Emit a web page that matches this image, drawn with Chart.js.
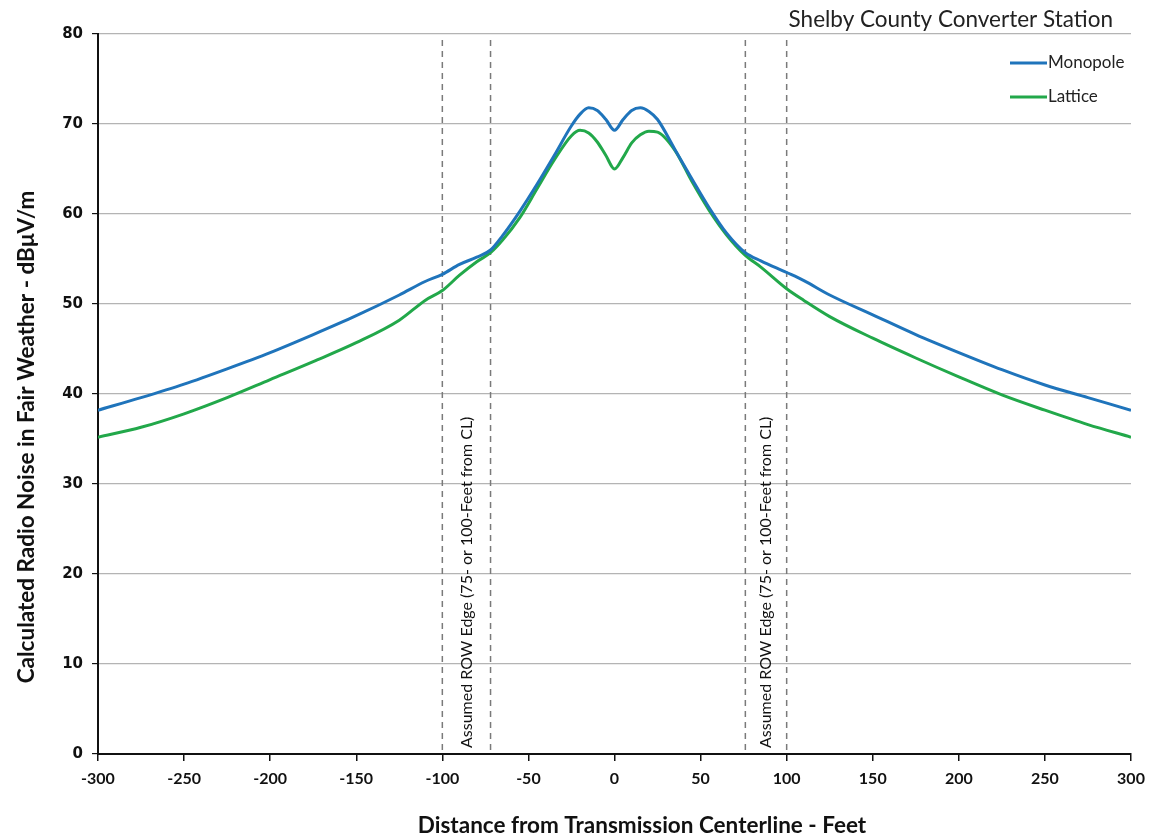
<!DOCTYPE html>
<html>
<head>
<meta charset="utf-8">
<script src="https://cdn.jsdelivr.net/npm/chart.js@4.4.0/dist/chart.umd.min.js"></script>
<style>
  html, body { margin: 0; padding: 0; background: #fff; }
  #wrap { width: 1149px; height: 836px; position: relative; }
</style>
</head>
<body>
<div id="wrap"><canvas id="rnChart"></canvas></div>
<script>
// distance from centerline (ft) and calculated radio noise (dBuV/m)
const distanceFt = [-300, -275, -250, -225, -200, -175, -150, -125, -110, -100, -90, -80, -72, -65, -55, -45, -35,
  -25, -20, -15, -10, -5, 0, 5, 10, 15, 20, 25, 35, 45, 55, 65, 76, 85, 100, 110, 125, 150, 175, 200, 225, 250, 275, 300];
const monopole = [38.2, 39.6, 41.1, 42.8, 44.6, 46.6, 48.7, 51.0, 52.5, 53.3, 54.4, 55.2, 56.0, 57.6, 60.3, 63.3, 66.5,
  69.8, 71.1, 71.8, 71.5, 70.5, 69.3, 70.5, 71.5, 71.8, 71.4, 70.5, 67.2, 63.9, 60.7, 57.9, 55.7, 54.8, 53.5, 52.6, 51.0, 48.8, 46.6, 44.6, 42.7, 41.0, 39.6, 38.2];
const lattice = [35.2, 36.3, 37.8, 39.6, 41.6, 43.6, 45.7, 48.2, 50.4, 51.5, 53.2, 54.7, 55.7, 57.1, 59.6, 62.8, 66.0,
  68.7, 69.3, 69.0, 68.0, 66.5, 65.0, 66.3, 67.9, 68.8, 69.2, 69.1, 67.1, 63.6, 60.4, 57.7, 55.4, 54.1, 51.7, 50.4, 48.6, 46.2, 44.0, 41.9, 39.9, 38.2, 36.6, 35.2];
const seriesNames = ['Monopole', 'Lattice'];
const seriesColors = ['#1f74bb', '#22a84a'];
const rowEdgeFt = [-100, -72, 76, 100];
const rowEdgeText = 'Assumed ROW Edge (75- or 100-Feet from CL)';
const chartTitle = 'Shelby County Converter Station';
const xTitle = 'Distance from Transmission Centerline - Feet';
const yTitle = 'Calculated Radio Noise in Fair Weather - dBμV/m';

const extras = {
  id: 'extras',
  beforeDatasetsDraw(chart) {
    const { ctx, chartArea, scales } = chart;
    const xs = rowEdgeFt.map(v => scales.x.getPixelForValue(v));
    ctx.save();
    ctx.strokeStyle = '#7a7a7a';
    ctx.lineWidth = 1.5;
    ctx.setLineDash([6, 5]);
    xs.forEach(px => {
      ctx.beginPath();
      ctx.moveTo(px, chartArea.top + 6);
      ctx.lineTo(px, chartArea.bottom);
      ctx.stroke();
    });
    ctx.setLineDash([]);
    // rotated labels between each pair of edges
    ctx.fillStyle = '#111';
    ctx.font = '16px Lato';
    ctx.textAlign = 'left';
    ctx.textBaseline = 'middle';
    for (let i = 0; i < xs.length; i += 2) {
      const mid = (xs[i] + xs[i + 1]) / 2;
      ctx.save();
      ctx.translate(mid, chartArea.bottom - 6);
      ctx.rotate(-Math.PI / 2);
      ctx.fillText(rowEdgeText, 0, 0);
      ctx.restore();
    }
    ctx.restore();
  },
  afterDraw(chart) {
    const { ctx, chartArea } = chart;
    ctx.save();
    ctx.fillStyle = '#222';
    ctx.font = '22.5px Lato';
    ctx.textAlign = 'right';
    ctx.textBaseline = 'middle';
    ctx.fillText(chartTitle, chartArea.right - 18, 20);

    // axis titles
    ctx.fillStyle = '#111';
    ctx.font = 'bold 22.5px Lato';
    ctx.textAlign = 'center';
    ctx.fillText(xTitle, 642, 826);
    ctx.save();
    ctx.translate(27, 437);
    ctx.rotate(-Math.PI / 2);
    ctx.fillText(yTitle, 0, 0);
    ctx.restore();

    // legend
    ctx.font = '17px Lato';
    ctx.textAlign = 'left';
    seriesNames.forEach((name, i) => {
      const y = chartArea.top + 29 + i * 34;
      const x0 = chartArea.right - 121;
      ctx.strokeStyle = seriesColors[i];
      ctx.lineWidth = 3;
      ctx.beginPath();
      ctx.moveTo(x0, y);
      ctx.lineTo(x0 + 37, y);
      ctx.stroke();
      ctx.fillStyle = '#222';
      ctx.fillText(name, x0 + 38, y);
    });
    ctx.restore();
  }
};

const ctx = document.getElementById('rnChart');
new Chart(ctx, {
  type: 'line',
  data: {
    datasets: seriesNames.map((name, i) => ({
      label: name,
      data: distanceFt.map((d, j) => ({ x: d, y: (i === 0 ? monopole : lattice)[j] })),
      borderColor: seriesColors[i],
      backgroundColor: seriesColors[i],
      borderWidth: 3,
      pointRadius: 0,
      cubicInterpolationMode: 'monotone',
    })),
  },
  options: {
    responsive: true,
    maintainAspectRatio: false,
    animation: false,
    layout: { padding: { top: 34, right: 18, left: 0, bottom: 0 } },
    plugins: {
      legend: { display: false },
      tooltip: { enabled: false },
    },
    scales: {
      x: {
        type: 'linear',
        min: -300,
        max: 300,
        afterFit: s => { s.height = 82; s.paddingLeft = 0; s.paddingRight = 0; },
        ticks: { stepSize: 50, color: '#111', padding: 8, font: { family: 'Lato', weight: 'bold', size: 16 } },
        grid: { drawOnChartArea: false, drawTicks: true, tickLength: 7, tickColor: '#111', lineWidth: 1.5 },
        border: { display: true, color: '#111', width: 2 },
      },
      y: {
        min: 0,
        max: 80,
        afterFit: s => { s.width = 98; },
        ticks: { stepSize: 10, color: '#111', padding: 9, font: { family: 'DejaVu Sans', weight: 'bold', size: 15 } },
        grid: { color: '#b4b4b4', lineWidth: 1.2, drawTicks: true, tickLength: 6, tickColor: '#111' },
        border: { display: true, color: '#111', width: 2 },
      },
    },
  },
  plugins: [extras],
});
</script>
</body>
</html>
